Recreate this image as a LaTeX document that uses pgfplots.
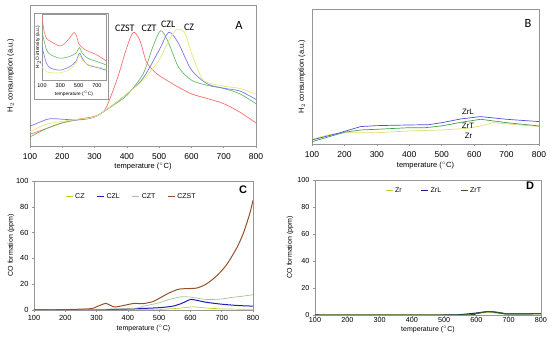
\documentclass[border=0pt]{standalone}
\usepackage{pgfplots}
\pgfplotsset{compat=1.18}
\usepackage{fontspec}
\setmainfont{Liberation Sans}
\newfontfamily\calfont{Carlito}
\definecolor{cRed}{RGB}{250,110,110}
\definecolor{cGreen}{RGB}{105,185,105}
\definecolor{cBlue}{RGB}{120,120,235}
\definecolor{cYel}{RGB}{232,232,120}
\definecolor{bBlue}{RGB}{80,80,220}
\definecolor{bGreen}{RGB}{60,160,70}
\definecolor{bYel}{RGB}{225,220,110}
\definecolor{dYel}{RGB}{195,210,40}
\definecolor{dBlue}{RGB}{30,30,190}
\definecolor{dGreenL}{RGB}{165,195,150}
\definecolor{dBrown}{RGB}{150,80,40}
\definecolor{dNavy}{RGB}{30,30,130}
\definecolor{dGreen}{RGB}{40,100,30}
\definecolor{frameGray}{RGB}{150,150,150}
\pgfplotsset{
  base/.style={
    scale only axis, anchor=south west,
    xmin=100, xmax=800, xtick={100,200,...,800},
    axis line style={frameGray, line width=0.5pt},
    tick style={frameGray, line width=0.5pt},
    tick align=outside, major tick length=2pt,
    xtick pos=bottom, ytick pos=left,
    /pgf/number format/assume math mode=true,
    /pgf/number format/.cd, 1000 sep={}, /pgfplots/.cd,
    every axis plot/.append style={line width=0.7pt, mark=none},
  },
}
\begin{document}
\begin{tikzpicture}
\path[use as bounding box] (0pt,0pt) rectangle (550pt,343pt);
% ---------------- Panel A
\begin{axis}[base, at={(30pt,197pt)}, width=226pt, height=141pt,
  ymin=0, ymax=100, ytick=\empty,
  ticklabel style={font=\fontsize{8.5}{9}\selectfont},
  xticklabel style={yshift=-2pt},
  xlabel={temperature ($^\circ$C)}, ylabel={H$_2$ consumption (a.u.)},
  label style={font=\fontsize{7.5}{9}\selectfont},
  xlabel style={at={(axis description cs:0.5,-0.145)}, anchor=center},
  ylabel style={at={(axis description cs:-0.085,0.5)}, anchor=center},
]
\addplot[cRed, smooth, tension=0.5] coordinates {(100,8.3)(150,12.3)(200,16.4)(250,19)(300,21)(330,25)(350,35)(375,51)(400,70)(420,80.6)(440,75)(460,60)(480,54)(500,50)(550,43)(600,37)(650,33.6)(700,30)(750,24)(800,16.4)};
\addplot[cGreen, smooth, tension=0.5] coordinates {(100,6.4)(150,12.3)(200,16.4)(250,18.7)(300,20.6)(350,27.7)(400,36)(450,51)(480,70)(505,81.8)(530,72.7)(560,56)(600,46.7)(650,43)(700,40.8)(750,37)(800,30)};
\addplot[cBlue, smooth, tension=0.5] coordinates {(100,14)(150,18.7)(170,19.4)(200,19)(250,18.5)(300,20.6)(350,28)(400,37)(450,48)(500,68)(530,80.6)(560,72.7)(600,54)(650,44)(700,41)(750,39)(800,33)};
\addplot[cYel, smooth, tension=0.5] coordinates {(100,10)(150,15.4)(200,17.5)(250,19)(300,20.6)(350,28)(400,37)(450,46.7)(500,61)(530,75)(555,82.7)(580,80)(600,66)(630,49)(650,45)(700,42.4)(750,40.8)(800,36.7)};
\node[font=\calfont\fontsize{10}{11}\selectfont] at (axis cs:394,83.7) {CZST};
\node[font=\calfont\fontsize{10}{11}\selectfont] at (axis cs:469,83.7) {CZT};
\node[font=\calfont\fontsize{10}{11}\selectfont] at (axis cs:528,86.5) {CZL};
\node[font=\calfont\fontsize{10}{11}\selectfont] at (axis cs:593,84.4) {CZ};
\node[font=\calfont\fontsize{12.5}{13}\selectfont] at (axis cs:747,85.8) {A};
\end{axis}
\draw[frameGray, line width=0.5pt] (34pt,244pt) rectangle (108pt,330pt);
% inset
\begin{axis}[base, at={(42pt,263pt)}, width=64pt, height=66pt,
  ymin=0, ymax=100, ytick=\empty, xtick={100,300,500,700},
  major tick length=1pt,
  ticklabel style={font=\fontsize{5.5}{6}\selectfont},
  xticklabel style={yshift=1pt},
  xlabel={temperature ($^\circ$C)}, ylabel={H$_2$O intensity (a.u.)},
  label style={font=\fontsize{4.8}{5}\selectfont},
  xlabel style={at={(axis description cs:0.5,-0.21)}, anchor=center},
  ylabel style={at={(axis description cs:-0.06,0.5)}, anchor=center},
  every axis plot/.append style={line width=0.6pt},
]
\addplot[cRed, smooth, tension=0.5] coordinates {(100,98)(120,76)(150,63)(200,58)(250,54)(300,51.5)(350,55.5)(400,63)(450,72)(480,66)(500,55.5)(550,48)(600,44)(700,38)(800,29)};
\addplot[cGreen, smooth, tension=0.5] coordinates {(100,73)(150,45.5)(200,38)(300,33)(400,35.6)(470,40.6)(510,49)(540,40.6)(600,33)(700,28)(800,23)};
\addplot[cBlue, smooth, tension=0.5] coordinates {(100,50.5)(150,25)(200,17.7)(300,15)(400,20)(470,28)(510,40.6)(540,33)(600,23)(700,19)(800,15)};
\addplot[cYel, smooth, tension=0.5] coordinates {(100,20)(150,12.6)(200,11)(300,11)(400,16)(470,25)(510,38)(540,30)(600,24)(700,20)(800,17.7)};
\end{axis}
% ---------------- Panel B
\begin{axis}[base, at={(312pt,199pt)}, width=227pt, height=135pt,
  ymin=0, ymax=100, ytick=\empty,
  ticklabel style={font=\fontsize{8.5}{9}\selectfont},
  xticklabel style={yshift=-2pt},
  xlabel={temperature ($^\circ$C)}, ylabel={H$_2$ consumption (a.u.)},
  label style={font=\fontsize{7.5}{9}\selectfont},
  xlabel style={at={(axis description cs:0.5,-0.16)}, anchor=center},
  ylabel style={at={(axis description cs:-0.044,0.5)}, anchor=center},
]
\addplot[bYel] coordinates {(100,3.5)(150,6.7)(200,8.4)(300,8.4)(400,9.7)(500,10.4)(580,11.6)(620,13.4)(660,15.8)(700,14.9)(800,12.9)};
\addplot[bGreen] coordinates {(100,1.7)(200,8.7)(250,10.4)(300,10.9)(400,12.1)(450,12.1)(500,13.4)(560,16.1)(620,18.3)(700,15.8)(800,13.4)};
\addplot[bBlue] coordinates {(100,3)(180,7.9)(250,12.9)(300,13.6)(400,14.1)(460,14.3)(500,15.8)(560,18.6)(620,20.3)(700,18.3)(800,16.6)};
\node[font=\fontsize{7.8}{9}\selectfont] at (axis cs:581,23.7) {ZrL};
\node[font=\fontsize{7.8}{9}\selectfont] at (axis cs:581,13.3) {ZrT};
\node[font=\fontsize{7.8}{9}\selectfont] at (axis cs:583,5.9) {Zr};
\node[font=\calfont\fontsize{12.5}{13}\selectfont] at (axis cs:766,88.9) {B};
\end{axis}
% ---------------- Panel C
\begin{axis}[base, at={(34pt,33pt)}, width=219pt, height=129pt,
  ymin=0, ymax=100, ytick={0,20,...,100},
  ticklabel style={font=\fontsize{7.4}{8}\selectfont},
  xlabel={temperature ($^\circ$C)}, ylabel={CO formation (ppm)},
  label style={font=\fontsize{7}{8}\selectfont},
  xlabel style={at={(axis description cs:0.5,-0.147)}, anchor=center},
  ylabel style={at={(axis description cs:-0.105,0.5)}, anchor=center},
  legend style={draw=none, fill=none, at={(0.445,0.88)}, anchor=center,
    font=\fontsize{7}{8}\selectfont, /tikz/every even column/.append style={column sep=10pt}},
  legend columns=4,
  legend image code/.code={\draw[#1, line width=1pt] (0pt,0pt) -- (7pt,0pt);},
]
\addplot[dYel] coordinates {(100,0)(500,0.3)(570,1.5)(610,2.5)(650,1.5)(700,0.8)(800,0.5)};
\addplot[dBlue, line width=1pt, smooth] coordinates {(100,0)(300,0.2)(400,0.8)(500,1.8)(550,3.3)(580,6)(600,8.2)(620,7.5)(650,6)(700,4.5)(750,3.5)(800,3)};
\addplot[dGreenL, smooth] coordinates {(100,0)(400,1)(450,3)(500,5.6)(530,8)(570,10.2)(600,10)(650,8.2)(700,8.5)(730,9.7)(760,10.5)(800,11.8)};
\addplot[dBrown, line width=1pt, smooth, tension=0.4] coordinates {(100,0)(200,0.3)(280,1)(300,2.5)(320,4.5)(330,5.2)(345,3.5)(360,2.3)(400,4.2)(420,5.1)(450,5)(480,6.5)(500,9)(530,13)(560,16)(580,16.5)(620,17)(650,20)(680,25.6)(700,30.5)(720,36.6)(750,49)(770,60)(790,75)(800,85)};
\legend{CZ,CZL,CZT,CZST}
\node[font=\bfseries\fontsize{11}{12}\selectfont] at (axis cs:768,93) {C};
\end{axis}
% ---------------- Panel D
\begin{axis}[base, at={(315pt,28pt)}, width=226pt, height=135pt,
  ymin=0, ymax=100, ytick={0,20,...,100},
  ticklabel style={font=\fontsize{7.2}{8}\selectfont},
  xticklabel style={yshift=3pt},
  xlabel={temperature ($^\circ$C)}, ylabel={CO formation (ppm)},
  label style={font=\fontsize{7}{8}\selectfont},
  xlabel style={at={(axis description cs:0.5,-0.108)}, anchor=center},
  ylabel style={at={(axis description cs:-0.11,0.5)}, anchor=center},
  legend style={draw=none, fill=none, at={(0.527,0.92)}, anchor=center,
    font=\fontsize{7}{8}\selectfont, /tikz/every even column/.append style={column sep=17pt}},
  legend columns=3,
  legend image code/.code={\draw[#1, line width=1pt] (0pt,0pt) -- (7pt,0pt);},
]
\addplot[dYel, smooth] coordinates {(100,0.2)(500,0.2)(560,0.4)(600,1)(640,1.8)(680,1)(700,0.7)(800,0.8)};
\addplot[dNavy, line width=1pt, smooth] coordinates {(100,0)(500,0)(550,0.3)(600,1.5)(640,2.5)(680,1.2)(700,0.8)(800,1)};
\addplot[dGreen, line width=1pt, smooth] coordinates {(100,0)(550,0)(600,1.2)(640,2.6)(680,1.5)(700,0.8)(800,1)};
\legend{Zr,ZrL,ZrT}
\node[font=\bfseries\fontsize{11}{12}\selectfont] at (axis cs:766,96) {D};
\end{axis}
\end{tikzpicture}
\end{document}
